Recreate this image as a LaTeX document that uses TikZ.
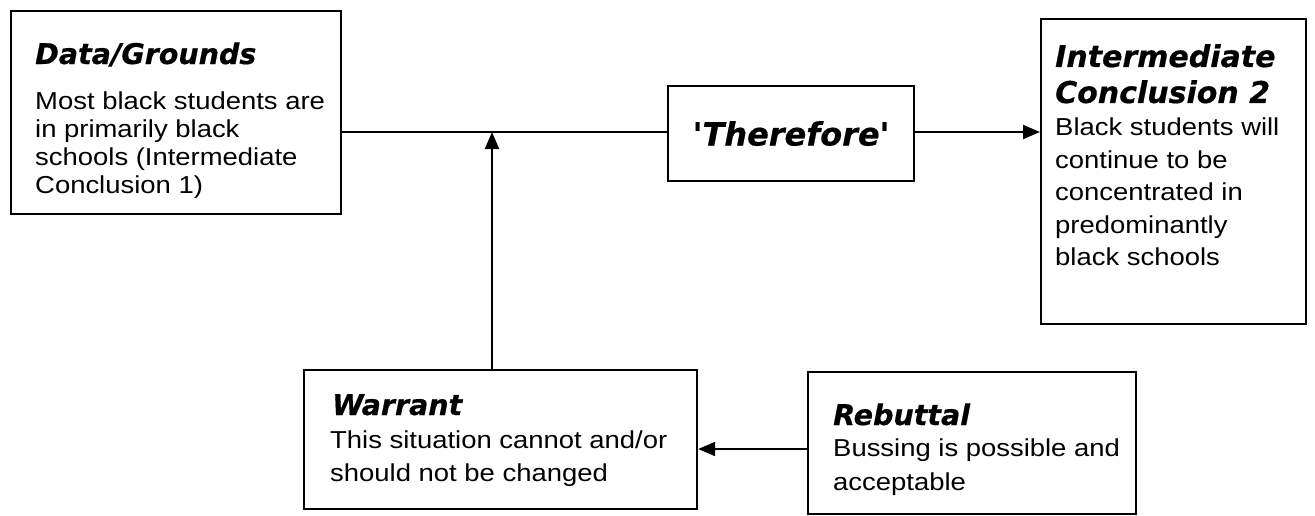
\documentclass[tikz,border=0pt]{standalone}
\usepackage{fontspec}
\setmainfont{DejaVu Sans}
\newfontfamily\ttlfont{DejaVu Sans}[BoldItalicFont={DejaVu Sans Bold Oblique}, BoldItalicFeatures={FakeBold=0.6}]
\newfontfamily\bodyfont{Liberation Sans}[FakeStretch=1.12]
\usetikzlibrary{arrows.meta}
\tikzset{
  box/.style={draw, line width=2.2pt, anchor=north west, inner sep=0pt},
  ttl/.style={anchor=base west, inner sep=0pt, font=\ttlfont\fontsize{28.5}{32}\selectfont\bfseries\itshape},
  body/.style={anchor=north west, inner sep=0pt, align=left, font=\bodyfont\fontsize{24.5}{#1}\selectfont},
  conn/.style={line width=2pt},
  arr/.style={line width=2pt, -{Triangle[length=17pt,width=14pt]}}
}
\begin{document}
\begin{tikzpicture}[x=1pt,y=-1pt]
\useasboundingbox[fill=white] (0,0) rectangle (1315,515);
% boxes
\node[box, minimum width=330pt, minimum height=203pt] (data) at (10,10) {};
\node[box, minimum width=246pt, minimum height=95pt] (there) at (667,85) {};
\node[box, minimum width=265pt, minimum height=305pt] (inter) at (1040,18) {};
\node[box, minimum width=393pt, minimum height=139pt] (warr) at (303,369) {};
\node[box, minimum width=328pt, minimum height=142pt] (rebut) at (807,371) {};
% texts
\node[ttl] (datat) at (35,64) {Data/Grounds};
\node[body=28pt] (datab) at (35,92) {Most black students are\\in primarily black\\schools (Intermediate\\Conclusion 1)};
\node[inner sep=0pt, font=\ttlfont\fontsize{32}{36}\selectfont\bfseries\itshape] (theret) at (there.center) {'Therefore'};
\node[ttl, font=\ttlfont\fontsize{30}{36}\selectfont\bfseries\itshape, align=left, anchor=north west] (intert) at (1055,44) {Intermediate\\Conclusion 2};
\node[body=32.5pt] (interb) at (1055,118) {Black students will\\continue to be\\concentrated in\\predominantly\\black schools};
\node[ttl] (warrt) at (332,415) {Warrant};
\node[body=33pt] (warrb) at (330,431) {This situation cannot and/or\\should not be changed};
\node[ttl] (rebutt) at (833,425) {Rebuttal};
\node[body=34pt] (rebutb) at (833,439) {Bussing is possible and\\acceptable};
% connectors
\coordinate (j) at (492,132);
\coordinate (r) at (807,449);
\draw[conn] (data.east |- j) -- (there.west |- j);
\draw[arr] (there.east |- j) -- (inter.west |- j);
\draw[arr] (j |- warr.north) -- (j);
\draw[arr] (r) -- (warr.east |- r);
\end{tikzpicture}
\end{document}
